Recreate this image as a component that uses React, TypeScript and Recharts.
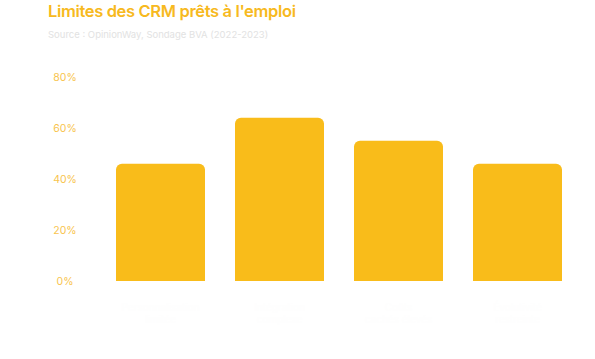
import { BarChart, Bar, XAxis, YAxis } from 'recharts';

const categories = [
  'Personnalisation limitée',
  'Intégration complexe',
  'Coûts cachés élevés',
  'Évolutivité restreinte',
];
const shares = [46, 64, 55, 46];
const yTicks = [0, 20, 40, 60, 80];

const data = categories.map((name, i) => ({ name, value: shares[i] }));

const YTick = (props: any) => {
  const { x, y, payload } = props;
  return (
    <text x={x - 36} y={y} dy={4} textAnchor="middle" fill="#f8c44e" fontSize={10.5} fontFamily="Inter">
      {`${payload.value}%`}
    </text>
  );
};

const XTick = (props: any) => {
  const { x, y, payload } = props;
  const words = String(payload.value).split(' ');
  const line1 = words[0];
  const line2 = words.slice(1).join(' ');
  return (
    <text x={x} y={y} textAnchor="middle" fill="#fefefe" fontSize={10} fontFamily="Inter">
      <tspan x={x} dy={22}>{line1}</tspan>
      <tspan x={x} dy={12}>{line2}</tspan>
    </text>
  );
};

export default function App() {
  return (
    <div style={{ position: 'absolute', left: 0, top: 0, width: 595, height: 359, background: '#fff', fontFamily: 'Inter' }}>
      <div style={{ position: 'absolute', left: 48, top: 1, fontSize: 16.5, fontWeight: 600, color: '#f7b920', letterSpacing: -0.35 }}>
        Limites des CRM prêts à l'emploi
      </div>
      <div style={{ position: 'absolute', left: 48, top: 29, fontSize: 9.5, color: '#e2e2e2' }}>
        Source : OpinionWay, Sondage BVA (2022-2023)
      </div>
      <BarChart
        width={595}
        height={359}
        data={data}
        margin={{ top: 77, right: 18, bottom: 38, left: 0 }}
        barCategoryGap={15}
      >
        <XAxis dataKey="name" axisLine={false} tickLine={false} height={40} tick={<XTick />} interval={0} />
        <YAxis
          width={101}
          domain={[0, 80]}
          ticks={yTicks}
          axisLine={false}
          tickLine={false}
          tickSize={0}
          tickMargin={0}
          tick={<YTick />}
        />
        <Bar dataKey="value" fill="#f9bc1a" radius={[6, 6, 0, 0]} isAnimationActive={false} />
      </BarChart>
    </div>
  );
}
